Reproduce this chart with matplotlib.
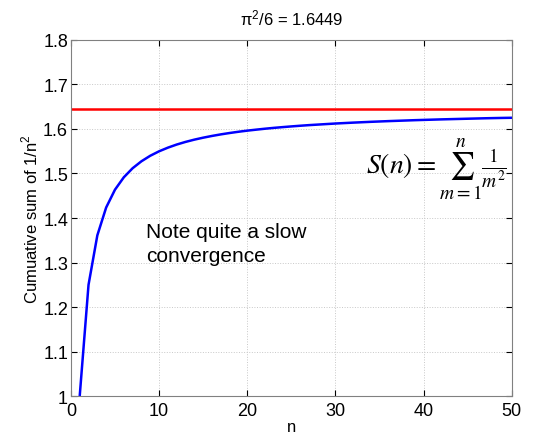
import numpy as np
import matplotlib
matplotlib.use("Agg")
import matplotlib.pyplot as plt

plt.rcParams['font.family'] = ['Liberation Sans', 'DejaVu Sans']
plt.rcParams['mathtext.fontset'] = 'stix'

# n and cumulative sum of 1/n^2
n = list(range(1, 51))
cumsum = [1.0000, 1.2500, 1.3611, 1.4236, 1.4636, 1.4914, 1.5118, 1.5274, 1.5398, 1.5498,
          1.5580, 1.5650, 1.5709, 1.5760, 1.5804, 1.5843, 1.5878, 1.5909, 1.5937, 1.5962,
          1.5984, 1.6005, 1.6024, 1.6041, 1.6057, 1.6072, 1.6086, 1.6098, 1.6110, 1.6122,
          1.6132, 1.6142, 1.6151, 1.6160, 1.6168, 1.6176, 1.6183, 1.6190, 1.6197, 1.6203,
          1.6209, 1.6215, 1.6220, 1.6225, 1.6230, 1.6235, 1.6240, 1.6244, 1.6248, 1.6251]
limit = 1.6449

fig = plt.figure(figsize=(5.37, 4.35), dpi=100)
ax = fig.add_axes([0.132, 0.087, 0.821, 0.819])

ax.plot(n, cumsum, color='blue', lw=1.8)
ax.axhline(limit, color='red', lw=1.8)

ax.set_xlim(0, 50)
ax.set_ylim(1, 1.8)
ax.set_xticks(np.arange(0, 51, 10))
ax.set_yticks(np.arange(1, 1.81, 0.1))
ax.set_yticklabels(['1', '1.1', '1.2', '1.3', '1.4', '1.5', '1.6', '1.7', '1.8'])
ax.tick_params(direction='in', labelsize=13, length=4, top=True, right=True)
ax.tick_params(axis='y', pad=2)
ax.tick_params(axis='x', pad=4)
ax.grid(True, ls=':', color='#c8c8c8', lw=0.7)
for s in ax.spines.values():
    s.set_color('#808080')

ax.set_xlabel('n', fontsize=12, labelpad=0)
ax.set_ylabel('Cumuative sum of 1/n$^\\mathregular{2}$', fontsize=12, labelpad=2)
ax.set_title('$\\mathregular{\\pi^2}$/6 = 1.6449', fontsize=12, pad=11)

ax.text(8.5, 1.343, 'Note quite a slow\nconvergence', fontsize=15, va='center', linespacing=1.35)
ax.text(33.5, 1.51, r'$S(n) = \sum_{m=1}^{n}\frac{1}{m^2}$', fontsize=20, va='center')

fig.savefig('out.png', dpi=100)
